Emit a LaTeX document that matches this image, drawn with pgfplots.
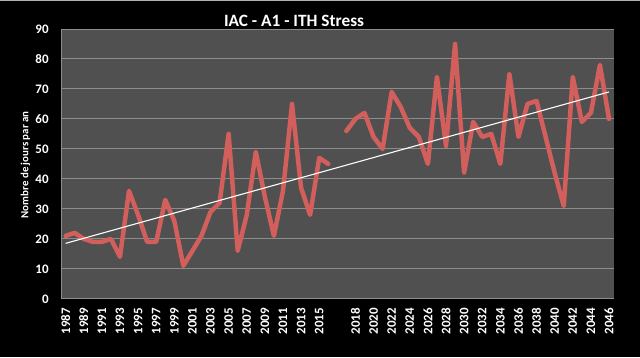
\documentclass[border=0pt]{standalone}
\usepackage{pgfplots}
\pgfplotsset{compat=1.18}
\usepackage{fontspec}
\setmainfont{Carlito}
\definecolor{plotbg}{RGB}{80,80,80}
\definecolor{gridc}{RGB}{140,140,140}
\definecolor{linered}{RGB}{210,95,92}
\begin{document}
\begin{tikzpicture}[x=1pt,y=1pt]
\fill[black] (0,0) rectangle (640,358);
\draw[gray!60, line width=1pt] (0,357.5) -- (640,357.5);
\begin{axis}[
  at={(60.7pt,58.7pt)}, anchor=south west,
  scale only axis, width=553.3pt, height=270.3pt,
  xmin=-0.5, xmax=60.5, ymin=0, ymax=90,
  axis background/.style={fill=plotbg},
  axis line style={draw=gridc, line width=0.8pt},
  axis x line*=bottom, axis y line*=left,
  ytick={0,10,...,90},
  xtick={0,2,...,28,32,34,...,60},
  xticklabels={1987,1989,1991,1993,1995,1997,1999,2001,2003,2005,2007,2009,2011,2013,2015,2018,2020,2022,2024,2026,2028,2030,2032,2034,2036,2038,2040,2042,2044,2046},
  major tick length=0pt,
  ymajorgrids, grid style={draw=gridc, line width=0.9pt},
  /pgf/number format/assume math mode=true,
  ticklabel style={text=white, font=\bfseries\fontsize{13}{15}\selectfont},
  x tick label style={rotate=90, anchor=east, xshift=-5.5pt, yshift=0pt},
  y tick label style={xshift=-9pt},
  unbounded coords=jump,
  clip=false,
]
\addplot[linered, line width=4.5pt, line join=round, line cap=round, mark=none] table {
x y
0 21
1 22
2 20
3 19
4 19
5 20
6 14
7 36
8 28
9 19
10 19
11 33
12 26
13 11
14 16
15 21
16 29
17 32
18 55
19 16
20 28
21 49
22 34
23 21
24 36
25 65
26 37
27 28
28 47
29 45
30 nan
31 56
32 60
33 62
34 54
35 50
36 69
37 64
38 57
39 54
40 45
41 74
42 51
43 85
44 42
45 59
46 54
47 55
48 45
49 75
50 54
51 65
52 66
53 54
54 42
55 31
56 74
57 59
58 62
59 78
60 60
};
\addplot[white, line width=1.1pt, mark=none] coordinates {(0,18.5) (60,69)};
\end{axis}
\node[text=white, font=\bfseries\fontsize{10.9}{12}\selectfont, rotate=90] at (25,193) {Nombre de jours par an};
\node[text=white, font=\bfseries\fontsize{17.3}{19}\selectfont, anchor=base] at (294,331.3) {IAC - A1 - ITH Stress};
\end{tikzpicture}
\end{document}
